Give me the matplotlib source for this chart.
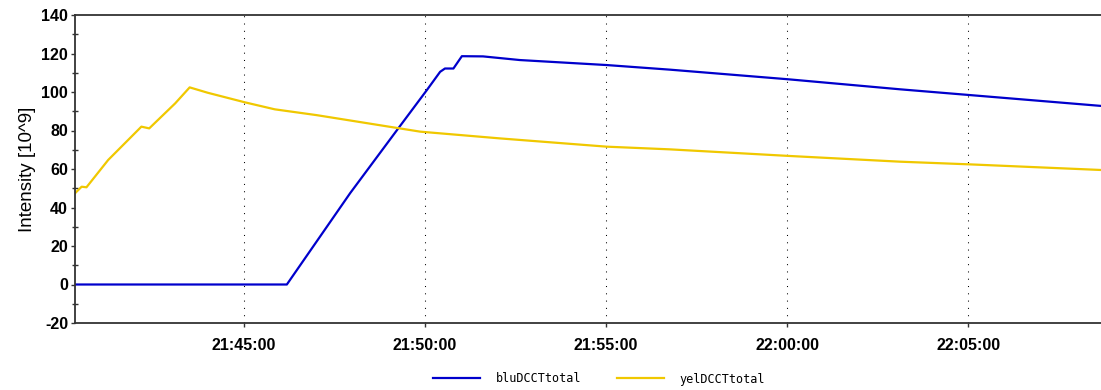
import pandas as pd
import numpy as np
import matplotlib
matplotlib.use('Agg')
import matplotlib.pyplot as plt
import matplotlib.dates as mdates
from matplotlib.ticker import MultipleLocator

plt.rcParams['axes.unicode_minus'] = False

# values
blu_times = ['21:40:20', '21:46:11', '21:47:56', '21:49:13', '21:50:03', '21:50:25',
             '21:50:33', '21:50:47', '21:51:01', '21:51:36', '21:52:37', '21:55:01',
             '21:56:46', '22:00:02', '22:03:07', '22:05:03', '22:08:39']
blu_values = [0, 0, 47.5, 80.0, 101.0, 110.5,
              112.2, 112.2, 118.6, 118.5, 116.6, 114.0,
              111.6, 106.6, 101.4, 98.4, 92.8]

yel_times = ['21:40:20', '21:40:31', '21:40:39', '21:41:15', '21:42:10', '21:42:23',
             '21:43:06', '21:43:30', '21:44:00', '21:45:02', '21:45:51', '21:47:00',
             '21:49:52', '21:52:04', '21:55:01', '21:56:46', '22:00:02', '22:03:07',
             '22:05:03', '22:08:39']
yel_values = [47.4, 50.8, 50.5, 64.7, 82.0, 81.1,
              94.1, 102.4, 99.6, 94.6, 91.0, 88.0,
              79.4, 75.9, 71.6, 70.2, 66.8, 63.8,
              62.4, 59.5]

x_start = '21:40:20'
x_end = '22:08:40'

def to_dt(t):
    return pd.to_datetime(['2000-01-01 ' + s for s in t])

fig = plt.figure(figsize=(11.01, 3.9), dpi=100)
ax = fig.add_axes([75/1101, 67/390, 1026/1101, 308/390])

ax.plot(to_dt(blu_times), blu_values, color='#0000cc', lw=1.6, label='bluDCCTtotal')
ax.plot(to_dt(yel_times), yel_values, color='#f0c800', lw=1.6, label='yelDCCTtotal')

ax.set_xlim(to_dt([x_start])[0], to_dt([x_end])[0])
ax.set_ylim(-20, 140)

ax.xaxis.set_major_locator(mdates.MinuteLocator(byminute=range(0, 60, 5)))
ax.xaxis.set_major_formatter(mdates.DateFormatter('%H:%M:%S'))
ax.yaxis.set_major_locator(MultipleLocator(20))
ax.yaxis.set_minor_locator(MultipleLocator(10))

ax.grid(True, axis='x', color='black', lw=0.75, linestyle=(0, (1, 6)))

for s in ['left', 'bottom', 'top']:
    ax.spines[s].set_color('#333333')
    ax.spines[s].set_linewidth(1.3)
ax.spines['right'].set_visible(False)

ax.tick_params(axis='both', which='major', direction='out', length=3, width=1,
               color='#333333', labelsize=11.5)
ax.tick_params(axis='x', which='major', pad=8)
ax.tick_params(axis='y', which='major', pad=2)
ax.tick_params(axis='y', which='minor', direction='inout', length=4, width=1, color='#333333')
for lab in ax.get_xticklabels() + ax.get_yticklabels():
    lab.set_fontfamily('Liberation Sans')
    lab.set_fontweight('bold')

ax.set_ylabel('Intensity [10^9]', fontsize=13.5, family='Liberation Sans', labelpad=4)

fig.legend(loc='center', bbox_to_anchor=(599/1101, 1 - 379/390), ncol=2, frameon=False,
           prop={'family': 'DejaVu Sans Mono', 'size': 8.5},
           handlelength=4.0, handletextpad=1.3, columnspacing=3.0)

plt.savefig('out.png', dpi=100)
